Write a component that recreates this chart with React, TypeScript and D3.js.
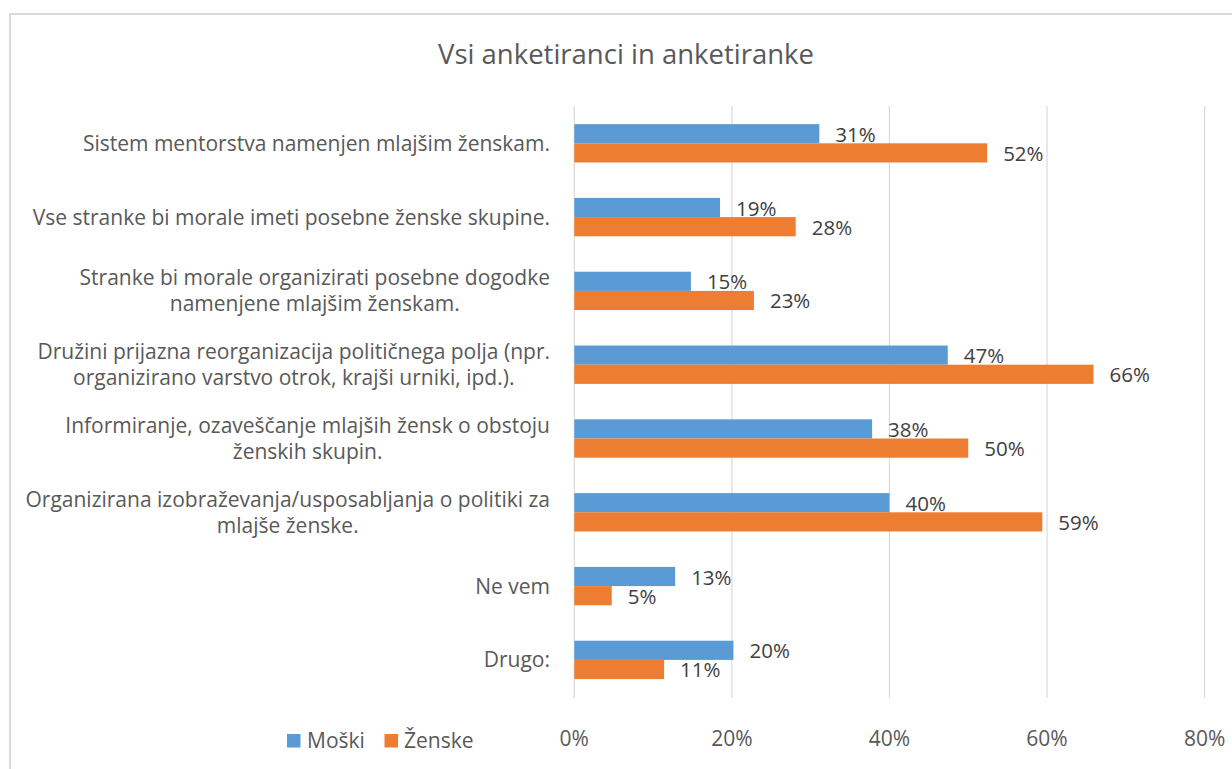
import React, { useEffect, useRef } from "react";
import * as d3 from "d3";

const categories: string[] = [
  "Sistem mentorstva namenjen mlajšim ženskam.",
  "Vse stranke bi morale imeti posebne ženske skupine.",
  "Stranke bi morale organizirati posebne dogodke\nnamenjene mlajšim ženskam.",
  "Družini prijazna reorganizacija političnega polja (npr.\norganizirano varstvo otrok, krajši urniki, ipd.).",
  "Informiranje, ozaveščanje mlajših žensk o obstoju\nženskih skupin.",
  "Organizirana izobraževanja/usposabljanja o politiki za\nmlajše ženske.",
  "Ne vem",
  "Drugo:",
];

const series: string[] = ["Moški", "Ženske"];
const moski: number[] = [0.311, 0.185, 0.148, 0.474, 0.378, 0.4, 0.128, 0.202];
const zenske: number[] = [0.524, 0.281, 0.228, 0.659, 0.5, 0.594, 0.0475, 0.114];
const ticks: number[] = [0, 0.2, 0.4, 0.6, 0.8];
const title = "Vsi anketiranci in anketiranke";

const colors: Record<string, string> = { "Moški": "#5B9BD5", "Ženske": "#ED7D31" };
const FONT = "'Open Sans', sans-serif";

export default function App() {
  const ref = useRef<SVGSVGElement>(null);

  useEffect(() => {
    const svg = d3.select(ref.current);
    svg.selectAll("*").remove();

    // border
    svg.append("rect")
      .attr("x", 10).attr("y", 14)
      .attr("width", 1400).attr("height", 900)
      .attr("fill", "#fff")
      .attr("stroke", "#d9d9d9").attr("stroke-width", 2);

    // title
    svg.append("text")
      .attr("x", 626).attr("y", 64)
      .attr("text-anchor", "middle")
      .attr("font-family", FONT).attr("font-size", 27.5)
      .attr("fill", "#595959")
      .text(title);

    const x = d3.scaleLinear().domain([0, 0.8]).range([574.3, 1204.6]);
    const y = d3.scaleBand<string>().domain(categories).range([106.4, 696.8]).paddingInner(0.48).paddingOuter(0.24);
    const ys = d3.scaleBand<string>().domain(series).range([0, y.bandwidth()]);

    // gridlines
    svg.append("g").selectAll("line").data(ticks).join("line")
      .attr("x1", (d) => x(d)).attr("x2", (d) => x(d))
      .attr("y1", 106).attr("y2", 698)
      .attr("stroke", "#d9d9d9").attr("stroke-width", 1.2);

    // tick labels
    svg.append("g").selectAll("text").data(ticks).join("text")
      .attr("x", (d) => x(d)).attr("y", 746)
      .attr("text-anchor", "middle")
      .attr("font-family", FONT).attr("font-size", 21)
      .attr("fill", "#595959")
      .text((d) => d3.format(".0%")(d));

    const data = series.map((s, si) => ({
      s,
      vals: (si === 0 ? moski : zenske).map((v, i) => ({ cat: categories[i], v })),
    }));

    const g = svg.append("g");
    data.forEach((sd) => {
      g.append("g").selectAll("rect").data(sd.vals).join("rect")
        .attr("x", x(0))
        .attr("y", (d) => (y(d.cat) as number) + (ys(sd.s) as number))
        .attr("width", (d) => x(d.v) - x(0))
        .attr("height", ys.bandwidth())
        .attr("fill", colors[sd.s]);
      g.append("g").selectAll("text").data(sd.vals).join("text")
        .attr("x", (d) => x(d.v) + 16)
        .attr("y", (d) => (y(d.cat) as number) + (ys(sd.s) as number) + ys.bandwidth() / 2 + 8)
        .attr("font-family", FONT).attr("font-size", 20.5)
        .attr("fill", "#404040")
        .text((d) => d3.format(".0%")(d.v));
    });

    // category labels
    const lh = 26;
    categories.forEach((c) => {
      const lines = c.split("\n");
      const cy = (y(c) as number) + y.bandwidth() / 2;
      const t = svg.append("text")
        .attr("text-anchor", "middle")
        .attr("font-family", FONT).attr("font-size", 21)
        .attr("fill", "#595959");
      const spans = lines.map((ln, i) =>
        t.append("tspan")
          .attr("y", cy + 7.5 + (i - (lines.length - 1) / 2) * lh)
          .text(ln)
      );
      let w = 0;
      spans.forEach((sp) => {
        const n = sp.node() as SVGTSpanElement;
        w = Math.max(w, n.getComputedTextLength());
      });
      spans.forEach((sp) => sp.attr("x", 550 - w / 2));
    });

    // legend
    const legendItems = [
      { s: series[0], rx: 287, tx: 307 },
      { s: series[1], rx: 384.5, tx: 404 },
    ];
    const lg = svg.append("g");
    legendItems.forEach((it) => {
      lg.append("rect").attr("x", it.rx).attr("y", 734).attr("width", 13.5).attr("height", 13.5).attr("fill", colors[it.s]);
      lg.append("text").attr("x", it.tx).attr("y", 748)
        .attr("font-family", FONT).attr("font-size", 21)
        .attr("fill", "#595959").text(it.s);
    });
  }, []);

  return (
    <svg
      ref={ref}
      width={1232}
      height={769}
      style={{ position: "absolute", left: 0, top: 0, display: "block", background: "#fff" }}
    />
  );
}
